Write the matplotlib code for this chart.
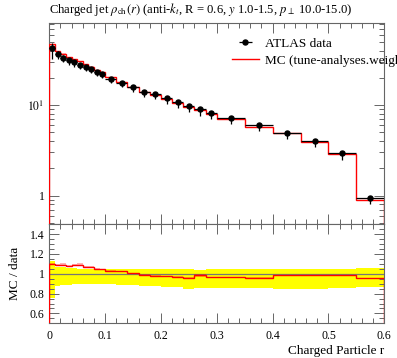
import numpy as np
import matplotlib
matplotlib.use("Agg")
import matplotlib.pyplot as plt
from matplotlib.lines import Line2D
from matplotlib.ticker import MultipleLocator, NullFormatter, LogLocator

plt.rcParams['font.family'] = ['Liberation Serif', 'DejaVu Serif']
plt.rcParams['mathtext.fontset'] = 'stix'

# ---- data ----
bin_edges = [0.00, 0.01, 0.02, 0.03, 0.04, 0.05, 0.06, 0.07, 0.08, 0.09, 0.10,
             0.12, 0.14, 0.16, 0.18, 0.20, 0.22, 0.24, 0.26, 0.28, 0.30,
             0.35, 0.40, 0.45, 0.50, 0.55, 0.60]
data_vals = [43.0, 36.9, 33.8, 31.6, 30.0, 28.0, 26.6, 25.1, 23.4, 22.3,
             19.8, 17.7, 15.85, 14.2, 13.4, 12.0, 10.8, 9.9, 9.03, 8.28,
             7.28, 5.99, 4.96, 4.01, 2.93, 0.94]
band_hi = [1.13, 1.072, 1.064, 1.057, 1.055, 1.053, 1.052, 1.05, 1.05, 1.05,
           1.048, 1.048, 1.047, 1.046, 1.046, 1.047, 1.048, 1.045, 1.042, 1.048,
           1.047, 1.047, 1.047, 1.045, 1.045, 1.062]
band_lo = [0.76, 0.88, 0.887, 0.89, 0.893, 0.895, 0.897, 0.898, 0.9, 0.9,
           0.895, 0.89, 0.886, 0.878, 0.872, 0.866, 0.864, 0.848, 0.853, 0.858,
           0.858, 0.858, 0.85, 0.85, 0.855, 0.866]
mc_ratio = [1.098, 1.086, 1.093, 1.08, 1.088, 1.092, 1.07, 1.07, 1.05, 1.044,
            1.032, 1.024, 1.007, 0.99, 0.978, 0.975, 0.97, 0.956, 0.983, 0.965,
            0.966, 0.96, 0.983, 0.983, 0.986, 0.953]
mc_relerr = [0.010, 0.008, 0.015, 0.008, 0.008, 0.015, 0.010, 0.008, 0.008, 0.008,
             0.006, 0.006, 0.006, 0.006, 0.006, 0.006, 0.006, 0.010, 0.012, 0.006,
             0.006, 0.006, 0.006, 0.006, 0.006, 0.006]

edges = np.array(bin_edges)
dv = np.array(data_vals)
bhi = np.array(band_hi)
blo = np.array(band_lo)
rat = np.array(mc_ratio)
mre = np.array(mc_relerr)
centers = 0.5 * (edges[1:] + edges[:-1])
halfw = 0.5 * (edges[1:] - edges[:-1])
mc = dv * rat

W, H = 397, 358
fig = plt.figure(figsize=(W / 100, H / 100), dpi=100)
L, R = 49.3 / W, 384.3 / W
ax = fig.add_axes([L, 1 - 224.3 / H, R - L, (224.3 - 23.3) / H])
axr = fig.add_axes([L, 1 - 323.3 / H, R - L, (323.3 - 224.3) / H])

frame_col = '#666666'
for a in (ax, axr):
    for s in a.spines.values():
        s.set_color(frame_col)
        s.set_linewidth(0.8)
    a.tick_params(which='both', direction='in', top=True, right=True,
                  color=frame_col, width=0.7, labelsize=8.5)
    a.tick_params(which='major', length=7)
    a.tick_params(which='minor', length=3.5)
    a.set_xlim(0, 0.6)
    a.xaxis.set_major_locator(MultipleLocator(0.1))
    a.xaxis.set_minor_locator(MultipleLocator(0.02))

# ---- main panel ----
ax.set_yscale('log')
ax.set_ylim(0.48, 81)
ax.yaxis.set_minor_locator(LogLocator(base=10, subs=np.arange(2, 10), numticks=20))
ax.yaxis.set_minor_formatter(NullFormatter())
ax.set_yticks([1, 10])
ax.set_yticklabels(['1', r'$10^{1}$'])
ax.xaxis.set_major_formatter(NullFormatter())

mc_lo = mc * (1 - mre)
mc_hi = mc * (1 + mre)
ax.fill_between(edges, np.append(mc_lo, mc_lo[-1]), np.append(mc_hi, mc_hi[-1]),
                step='post', color='red', alpha=0.3, linewidth=0, zorder=2)
ax.stairs(mc, edges, color='red', linewidth=1.0, zorder=3)
ax.errorbar(centers, dv, xerr=halfw,
            yerr=[dv * (1 - blo), dv * (bhi - 1)],
            fmt='o', color='black', ms=3.6, elinewidth=0.9, capsize=0, zorder=4)

h_data = ax.errorbar([], [], xerr=[], fmt='o', color='black', ms=3.6, elinewidth=0.9)
h_mc = Line2D([], [], color='red', linewidth=1.0)
leg = ax.legend([h_data, h_mc], ['ATLAS data', 'MC (tune-analyses.weight'],
                loc='upper left', bbox_to_anchor=(0.53, 0.955), frameon=False,
                fontsize=9.5, handlelength=2.0, handletextpad=0.5, labelspacing=0.35,
                borderaxespad=0)

# ---- ratio panel ----
axr.bar(edges[:-1], bhi - blo, width=np.diff(edges), bottom=blo, align='edge',
        color='#ffff00', linewidth=0, zorder=1)
axr.axhline(1.0, color='#777777', linewidth=0.9, zorder=2)
r_lo = rat * (1 - mre)
r_hi = rat * (1 + mre)
axr.fill_between(edges, np.append(r_lo, r_lo[-1]), np.append(r_hi, r_hi[-1]),
                 step='post', color='red', alpha=0.3, linewidth=0, zorder=3)
axr.stairs(rat, edges, color='red', linewidth=1.0, zorder=4)
axr.set_ylim(0.5, 1.5)
axr.set_yticks([0.6, 0.8, 1.0, 1.2, 1.4])
axr.set_yticklabels(['0.6', '0.8', '1', '1.2', '1.4'])
axr.yaxis.set_minor_locator(MultipleLocator(0.05))
axr.set_xticks([0, 0.1, 0.2, 0.3, 0.4, 0.5, 0.6])
axr.set_xticklabels(['0', '0.1', '0.2', '0.3', '0.4', '0.5', '0.6'])
axr.tick_params(axis='x', pad=5)
axr.set_ylabel('MC / data', fontsize=9.5, labelpad=6)
axr.set_xlabel('Charged Particle r', fontsize=9.5, loc='right', labelpad=2)

fig.text(L, 1 - 10 / H,
         r'Charged jet $\rho_{\mathrm{ch}}(r)$ (anti-$k_t$, R = 0.6, $y$ 1.0-1.5, $p_\perp$ 10.0-15.0)',
         fontsize=9.1, ha='left', va='center')

fig.savefig('out.png', dpi=100)
